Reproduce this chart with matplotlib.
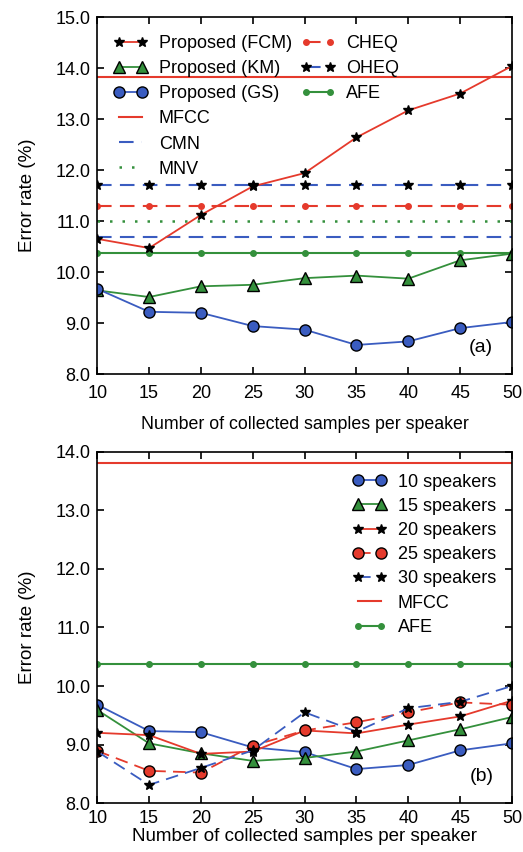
import numpy as np
import matplotlib.pyplot as plt
from matplotlib.lines import Line2D

plt.rcParams['font.family'] = ['Liberation Sans', 'DejaVu Sans']

# 数据
samples = [10, 15, 20, 25, 30, 35, 40, 45, 50]

# (a)
fcm = [10.65, 10.47, 11.12, 11.68, 11.94, 12.64, 13.17, 13.50, 14.04]
km = [9.64, 9.51, 9.72, 9.75, 9.88, 9.93, 9.87, 10.23, 10.36]
gs = [9.67, 9.22, 9.20, 8.94, 8.87, 8.57, 8.64, 8.90, 9.02]
mfcc = 13.82
cmn = 10.68
mnv = 11.0
cheq = 11.3
oheq = 11.7
afe = 10.37

# (b)
spk10 = [9.68, 9.23, 9.21, 8.95, 8.87, 8.58, 8.65, 8.90, 9.02]
spk15 = [9.59, 9.02, 8.85, 8.72, 8.77, 8.88, 9.07, 9.26, 9.47]
spk20 = [9.20, 9.16, 8.84, 8.88, 9.24, 9.19, 9.34, 9.48, 9.75]
spk25 = [8.89, 8.55, 8.52, 8.98, 9.24, 9.38, 9.55, 9.72, 9.68]
spk30 = [8.88, 8.31, 8.60, 8.90, 9.55, 9.22, 9.62, 9.73, 10.00]

red = '#e53a2c'
blue = '#3a5cc0'
green = '#34903c'
dash = (7, 4)
fs = 13
star = 7

fig = plt.figure(figsize=(5.23, 8.52), dpi=100)
ax1 = fig.add_axes([0.186, 0.561, 0.793, 0.419])
ax2 = fig.add_axes([0.186, 0.0575, 0.793, 0.412])

n = len(samples)

# ---- (a)
ax1.axhline(mfcc, color=red, lw=1.5, label='MFCC')
ax1.plot(samples, [cmn] * n, color=blue, lw=1.5, dashes=dash, label='CMN')
ax1.plot(samples, [mnv] * n, color=green, lw=1.8, ls=(0, (1, 4)), label='MNV')
ax1.plot(samples, [cheq] * n, color=red, lw=1.5, dashes=dash, marker='o', ms=4, label='CHEQ')
ax1.plot(samples, [oheq] * n, color=blue, lw=1.5, dashes=dash, marker='*', ms=star,
         mfc='black', mec='black', label='OHEQ')
ax1.plot(samples, [afe] * n, color=green, lw=1.5, marker='o', ms=4, label='AFE')
ax1.plot(samples, fcm, color=red, lw=1.3, marker='*', ms=star, mfc='black', mec='black',
         label='Proposed (FCM)')
ax1.plot(samples, km, color=green, lw=1.3, marker='^', ms=8, mec='black', mfc=green,
         label='Proposed (KM)')
ax1.plot(samples, gs, color=blue, lw=1.3, marker='o', ms=8, mec='black', mfc=blue,
         label='Proposed (GS)')

h, l = ax1.get_legend_handles_labels()
d = dict(zip(l, h))
blank = Line2D([], [], color='none')
order = ['Proposed (FCM)', 'Proposed (KM)', 'Proposed (GS)', 'MFCC', 'CMN', 'MNV',
         'CHEQ', 'OHEQ', 'AFE']
hs = [d[k] for k in order] + [blank] * 3
ls_ = order + [''] * 3
ax1.legend(hs, ls_, ncol=2, loc='upper left', frameon=False, fontsize=fs,
           numpoints=2, handlelength=1.9, columnspacing=0.5, handletextpad=0.6,
           labelspacing=0.45, bbox_to_anchor=(0.0, 0.995))

ax1.set_ylim(8, 15)
ax1.set_yticks(np.arange(8, 15.1, 1))
ax1.set_yticklabels(['%.1f' % v for v in np.arange(8, 15.1, 1)])
ax1.text(0.955, 0.05, '(a)', transform=ax1.transAxes, ha='right', va='bottom', fontsize=fs + 1)

# ---- (b)
ax2.plot(samples, spk10, color=blue, lw=1.3, marker='o', ms=8, mec='black', mfc=blue,
         label='10 speakers')
ax2.plot(samples, spk15, color=green, lw=1.3, marker='^', ms=8, mec='black', mfc=green,
         label='15 speakers')
ax2.plot(samples, spk20, color=red, lw=1.3, marker='*', ms=star, mec='black', mfc='black',
         label='20 speakers')
ax2.plot(samples, spk25, color=red, lw=1.3, dashes=dash, marker='o', ms=8, mec='black',
         mfc=red, label='25 speakers')
ax2.plot(samples, spk30, color=blue, lw=1.3, dashes=dash, marker='*', ms=star, mec='black',
         mfc='black', label='30 speakers')
ax2.axhline(mfcc, color=red, lw=1.5, label='MFCC')
ax2.plot(samples, [afe] * n, color=green, lw=1.5, marker='o', ms=4, label='AFE')

ax2.legend(loc='upper right', frameon=False, fontsize=fs, numpoints=2,
           handlelength=1.9, handletextpad=0.6, labelspacing=0.4,
           bbox_to_anchor=(1.0, 0.985))
ax2.set_ylim(8, 14)
ax2.set_yticks(np.arange(8, 14.1, 1))
ax2.set_yticklabels(['%.1f' % v for v in np.arange(8, 14.1, 1)])
ax2.text(0.955, 0.05, '(b)', transform=ax2.transAxes, ha='right', va='bottom', fontsize=fs + 1)

for ax in (ax1, ax2):
    ax.set_xlim(10, 50)
    ax.set_xticks(samples)
    ax.tick_params(direction='in', top=True, right=True, length=5, width=1.2,
                   labelsize=fs)
    for sp in ax.spines.values():
        sp.set_linewidth(1.2)
    ax.set_ylabel('Error rate (%)', fontsize=13.5, labelpad=14)

ax1.tick_params(axis='x', pad=8)
ax1.tick_params(axis='y', pad=5)
ax2.tick_params(pad=5)
ax1.set_xlabel('Number of collected samples per speaker', fontsize=12.8, labelpad=10)
ax2.set_xlabel('Number of collected samples per speaker', fontsize=13.5, labelpad=1)

fig.savefig('out.png', dpi=100)
